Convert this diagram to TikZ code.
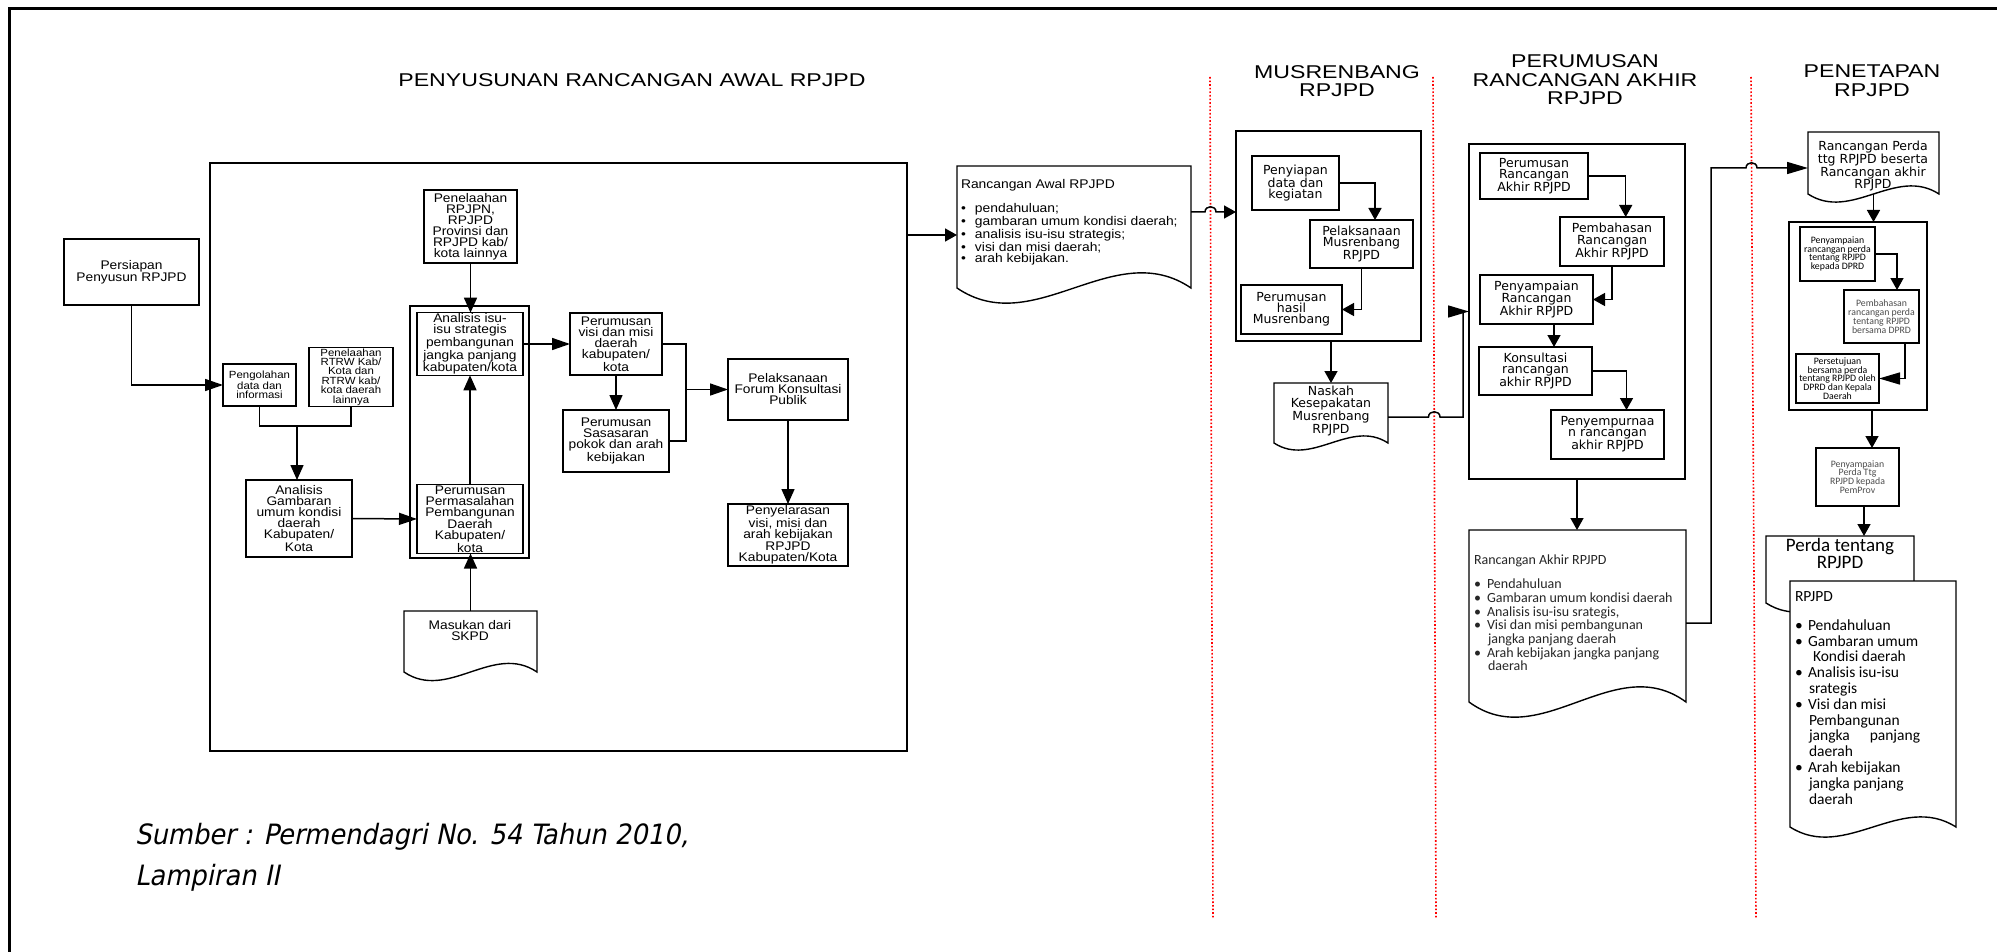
\documentclass[tikz,border=0pt]{standalone}
\usepackage{fontspec}
\setmainfont{Liberation Sans}
\newfontfamily\arialf{Liberation Sans}[FakeStretch=1.1]
\newfontfamily\titlef{Liberation Sans}[FakeStretch=1.25]
\newfontfamily\verdf{DejaVu Sans}
\newfontfamily\calf{Carlito}
\newfontfamily\srcf{DejaVu Sans}[FakeStretch=0.92,FakeSlant=0.2]
\usetikzlibrary{arrows.meta,calc}
\tikzset{
  every node/.style={inner sep=0pt,outer sep=0pt},
  box/.style={draw,line width=1.3pt,align=center,inner sep=1pt},
  grp/.style={draw,line width=1.4pt},
  docst/.style={draw,line width=1.4pt},
  conn/.style={line width=1.5pt},
  redline/.style={red,dotted,line width=1.6pt},
  arrH/.style={-{Triangle[length=18pt,width=12pt]}},
  arrV/.style={-{Triangle[length=15pt,width=13pt]}},
  arrS/.style={-{Triangle[length=12pt,width=13pt]}},
  arrB/.style={-{Triangle[length=21pt,width=12pt]}},
  fL/.style={font=\arialf\fontsize{12.5}{11}\selectfont},
  fLs/.style={font=\arialf\fontsize{10.4}{9.4}\selectfont},
  fV/.style={font=\verdf\fontsize{12.5}{11.2}\selectfont},
  fC/.style={font=\calf\fontsize{9.8}{8.8}\selectfont},
  fT/.style={font=\titlef\fontsize{18.5}{18.5}\selectfont,align=center},
}
\newcommand{\bx}[7][]{\node[box,minimum width={#5-#3},minimum height={#6-#4},#1] (#2) at ({(#3+#5)/2},{(#4+#6)/2}) {#7};}
\newcommand{\docshape}[7][]{%
  \draw[docst,#1] (#3,#4) -- (#5,#4) -- (#5,#6) .. controls ({#3+0.67*(#5-#3)},{#6-3.5*#7}) and ({#3+0.33*(#5-#3)},{#6+3.5*#7}) .. (#3,#6) -- cycle;
  \node[minimum width={#5-#3},minimum height={#6-#4}] (#2) at ({(#3+#5)/2},{(#4+#6)/2}) {};}
\begin{document}
\begin{tikzpicture}[x=1pt,y=-1pt]
\useasboundingbox (0,0) rectangle (1997,952);
\draw[line width=3pt] (9,952) -- (9,9) -- (1997,9);

% titles
\node[fT] (t1) at (632,80) {PENYUSUNAN RANCANGAN AWAL RPJPD};
\node[fT] (t2) at (1337,81) {MUSRENBANG\\RPJPD};
\node[fT] (t3) at (1585,80) {PERUMUSAN\\RANCANGAN AKHIR\\RPJPD};
\node[fT] (t4) at (1872,80.5) {PENETAPAN\\RPJPD};

% red separators
\draw[redline] (1210,77) -- (1213,918);
\draw[redline] (1433,77) -- (1436,918);
\draw[redline] (1751,77) -- (1756,918);

% stage 1
\bx[grp]{stage1}{210}{163}{907}{751}{}
\bx[fL]{pers}{64}{239}{199}{305}{Persiapan\\Penyusun RPJPD}
\bx[fLs]{peng}{223}{364}{296}{406}{Pengolahan\\data dan\\informasi}
\bx[fLs]{rtrw}{309}{348}{393}{406}{Penelaahan\\RTRW Kab/\\Kota dan\\RTRW kab/\\kota daerah\\lainnya}
\bx[fL]{ang}{246}{480}{352}{557}{Analisis\\Gambaran\\umum kondisi\\daerah\\Kabupaten/\\Kota}
\bx[fL]{penel}{424}{190}{517}{263}{Penelaahan\\RPJPN,\\RPJPD\\Provinsi dan\\RPJPD kab/\\kota lainnya}
\bx[grp]{grp1}{410}{306}{529}{558}{}
\bx[fL]{isu}{417}{313}{523}{375}{Analisis isu-\\isu strategis\\pembangunan\\jangka panjang\\kabupaten/kota}
\bx[fL]{pp}{417}{485}{523}{553}{Perumusan\\Permasalahan\\Pembangunan\\Daerah\\Kabupaten/\\kota}
\bx[fL]{visi}{570}{313}{662}{375}{Perumusan\\visi dan misi\\daerah\\kabupaten/\\kota}
\bx[fL]{sas}{563}{410}{669}{472}{Perumusan\\Sasasaran\\pokok dan arah\\kebijakan}
\bx[fL]{pelaks}{728}{359}{848}{420}{Pelaksanaan\\Forum Konsultasi\\Publik}
\bx[fL]{penyel}{728}{504}{848}{566}{Penyelarasan\\visi, misi dan\\arah kebijakan\\RPJPD\\Kabupaten/Kota}
\docshape{masuk}{404}{611}{537}{672}{8.5}
\node[fL,align=center] (masukt) at (470,631) {Masukan dari\\SKPD};

% rancangan awal document
\docshape{awal}{957}{166}{1191}{288}{15}
\node[anchor=north west,align=left,font=\arialf\fontsize{12.6}{11.3}\selectfont] (awalt) at (961,179.5)
 {Rancangan Awal RPJPD\\[11.5pt]
  \makebox[14pt][l]{\textbullet}pendahuluan;\\
  \makebox[14pt][l]{\textbullet}gambaran umum kondisi daerah;\\
  \makebox[14pt][l]{\textbullet}analisis isu-isu strategis;\\
  \makebox[14pt][l]{\textbullet}visi dan misi daerah;\\
  \makebox[14pt][l]{\textbullet}arah kebijakan.};

% stage 2
\bx[grp]{stage2}{1236}{131}{1421}{341}{}
\bx[fV]{siap}{1252}{156}{1339}{210}{Penyiapan\\data dan\\kegiatan}
\bx[fV]{laks}{1310}{220}{1413}{268}{Pelaksanaan\\Musrenbang\\RPJPD}
\bx[fV]{hasil}{1241}{285}{1342}{334}{Perumusan\\hasil\\Musrenbang}
\docshape{naskah}{1274}{383}{1388}{443}{7}
\node[fV,align=center,anchor=north] (naskaht) at (1331,386.5) {Naskah\\Kesepakatan\\Musrenbang\\RPJPD};

% stage 3
\bx[grp]{stage3}{1469}{144}{1685}{479}{}
\bx[fV]{pra}{1480}{153}{1588}{199}{Perumusan\\Rancangan\\Akhir RPJPD}
\bx[fV]{bahas}{1560}{217}{1664}{266}{Pembahasan\\Rancangan\\Akhir RPJPD}
\bx[fV]{pny}{1480}{275}{1593}{324}{Penyampaian\\Rancangan\\Akhir RPJPD}
\bx[fV]{kons}{1479}{347}{1592}{395}{Konsultasi\\rancangan\\akhir RPJPD}
\bx[fV]{smp}{1551}{410}{1664}{459}{Penyempurnaa\\n rancangan\\akhir RPJPD}
\docshape{akhir}{1469}{530}{1686}{702}{15}
\node[anchor=north west,align=left,font=\calf\fontsize{14}{13.7}\selectfont,text=black!85] (akhirt) at (1474,555)
 {Rancangan Akhir RPJPD\\[10.3pt]
  \makebox[13pt][l]{\textbullet}Pendahuluan\\
  \makebox[13pt][l]{\textbullet}Gambaran umum kondisi daerah\\
  \makebox[13pt][l]{\textbullet}Analisis isu-isu srategis,\\
  \makebox[13pt][l]{\textbullet}Visi dan misi pembangunan\\
  \hspace*{14pt}jangka panjang daerah\\
  \makebox[13pt][l]{\textbullet}Arah kebijakan jangka panjang\\
  \hspace*{14pt}daerah};

% stage 4
\docshape{perda}{1808}{132}{1939}{194}{8}
\node[fV,align=center] (perdat) at (1873,166) {Rancangan Perda\\ttg RPJPD beserta\\Rancangan akhir\\RPJPD};
\bx[grp]{stage4}{1789}{222}{1927}{410}{}
\bx[fC]{p1}{1800}{227}{1875}{281}{Penyampaian\\rancangan perda\\tentang RPJPD\\kepada DPRD}
\bx[fC,text=black!70]{p2}{1844}{290}{1919}{343}{Pembahasan\\rancangan perda\\tentang RPJPD\\bersama DPRD}
\bx[fC]{p3}{1796}{354}{1879}{403}{Persetujuan\\bersama perda\\tentang RPJPD oleh\\DPRD dan Kepala\\Daerah}
\bx[fC,text=black!70]{p4}{1816}{448}{1899}{506}{Penyampaian\\Perda Ttg\\RPJPD kepada\\PemProv}
\docshape{perdatg}{1766}{536}{1914}{603}{9}
\node[font=\calf\fontsize{19}{15}\selectfont,align=center] (perdatgt) at (1840,553.5) {Perda tentang\\RPJPD};
\docshape[fill=white]{rpjpd}{1790}{581}{1956}{827}{10}
\node[anchor=north west,align=left,font=\calf\fontsize{15.5}{15.8}\selectfont] (rpjpdt) at (1795,592)
 {RPJPD\\[12.5pt]
  \makebox[13pt][l]{\textbullet}Pendahuluan\\
  \makebox[13pt][l]{\textbullet}Gambaran umum\\
  \hspace*{18pt}Kondisi daerah\\
  \makebox[13pt][l]{\textbullet}Analisis isu-isu\\
  \hspace*{14pt}srategis\\
  \makebox[13pt][l]{\textbullet}Visi dan misi\\
  \hspace*{14pt}Pembangunan\\
  \hspace*{14pt}jangka\hspace{20pt}panjang\\
  \hspace*{14pt}daerah\\
  \makebox[13pt][l]{\textbullet}Arah kebijakan\\
  \hspace*{14pt}jangka panjang\\
  \hspace*{14pt}daerah};

% source
\node[anchor=base west,font=\srcf\fontsize{28}{34}\selectfont] (src1) at (135,844) {Sumber : Permendagri No. 54 Tahun 2010,};
\node[anchor=base west,font=\srcf\fontsize{28}{34}\selectfont] (src2) at (135,885) {Lampiran II};

% connectors stage 1
\draw[conn,arrH] (pers.south) |- (peng.west);
\coordinate (j0) at (297,426);
\draw[conn] (peng.south) |- (j0) -| (rtrw.south);
\draw[conn,arrV] (j0) -- (j0 |- ang.north);
\draw[conn,arrH] (ang.east) -- (pp.west);
\draw[conn,arrV] (pp.north) -- (isu.south);
\draw[conn,arrV] (penel.south) -- (penel.south |- isu.north);
\draw[conn,arrV] (masuk.north) -- (masuk.north |- pp.south);
\draw[conn,arrH] (isu.east) -- (visi.west);
\draw[conn,arrV] (visi.south) -- (visi.south |- sas.north);
\coordinate (j1) at (686,389.5);
\draw[conn] (visi.east) -| (j1) |- (sas.east);
\draw[conn,arrH] (j1) -- (pelaks.west);
\draw[conn,arrV] (pelaks.south) -- (pelaks.south |- penyel.north);
\coordinate (a1) at ($(awal.west)+(0,8)$);
\draw[conn,arrS] (a1 -| stage1.east) -- (a1);

% connectors stage 2
\coordinate (a2) at ($(awal.east)+(0,-15)$);
\draw[conn,arrS] (a2) -- (1205,212) .. controls (1205,205) and (1216,205) .. (1216,212) -- (a2 -| stage2.west);
\coordinate (laksin) at ($(laks.north)+(13.5,0)$);
\draw[conn,arrS] (siap.east) -| (laksin);
\draw[conn,arrS] (laks.south) |- (hasil.east);
\draw[conn,arrS] (naskah.north |- stage2.south) -- (naskah.north);
\coordinate (a3) at ($(naskah.east)+(0,4)$);
\draw[conn,arrB] (a3) -- (1428.5,417) .. controls (1428.5,410) and (1440,410) .. (1440,417) -- (1463,417) -- (1463,311.5) -- (stage3.west);

% connectors stage 3
\coordinate (bahin) at ($(bahas.north)+(13.7,0)$);
\draw[conn,arrS] (pra.east) -| (bahin);
\draw[conn,arrS] (bahas.south) |- (pny.east);
\coordinate (pnyout) at ($(pny.south)+(17.5,0)$);
\draw[conn,arrS] (pnyout) -- (pnyout |- kons.north);
\coordinate (smpin) at ($(smp.north)+(19,0)$);
\draw[conn,arrS] (kons.east) -| (smpin);
\draw[conn,arrS] (stage3.south) -- (stage3.south |- akhir.north);
\coordinate (a4) at ($(akhir.east)+(0,7)$);
\coordinate (a5) at ($(perda.west)+(0,5)$);
\draw[conn,arrB] (a4) -- (1711,623) -- (1711,168) -- (1746,168) .. controls (1746,161) and (1757,161) .. (1757,168) -- (a5);

% connectors stage 4
\draw[conn,arrS] (perda.south) -- (perda.south |- stage4.north);
\coordinate (p2in) at ($(p2.north)+(15.5,0)$);
\draw[conn,arrS] (p1.east) -| (p2in);
\coordinate (p2out) at ($(p2.south)+(23.5,0)$);
\draw[conn,arrB] (p2out) |- (p3.east);
\coordinate (s4out) at ($(stage4.south)+(14,0)$);
\draw[conn,arrS] (s4out) -- (s4out |- p4.north);
\coordinate (p4out) at ($(p4.south)+(6.5,0)$);
\draw[conn,arrS] (p4out) -- (p4out |- perdatg.north);
\end{tikzpicture}
\end{document}
